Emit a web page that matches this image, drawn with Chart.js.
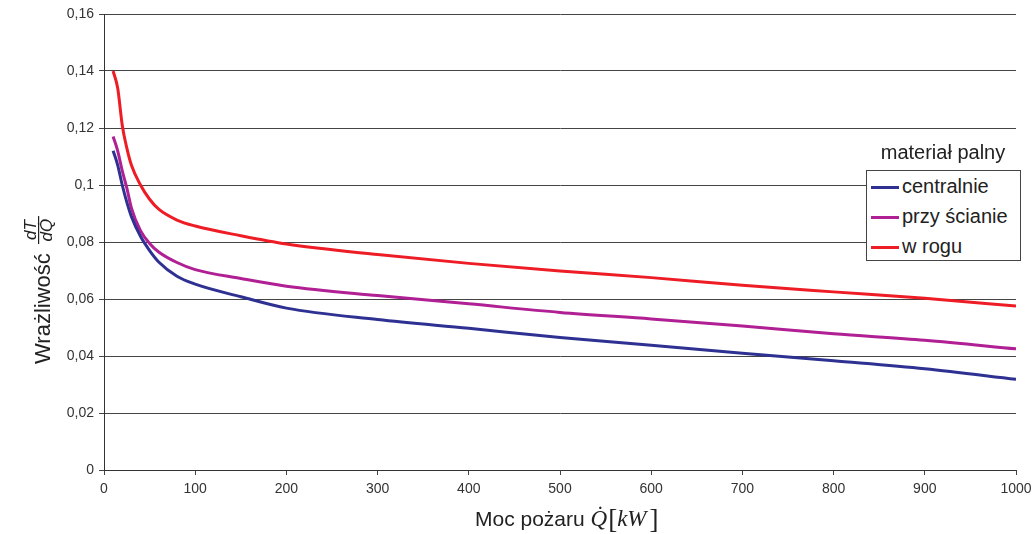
<!DOCTYPE html>
<html lang="pl">
<head>
    <meta charset="UTF-8">
    <title>Wrażliwość dT/dQ</title>
    <script src="https://cdn.jsdelivr.net/npm/chart.js"></script>
    <style>
        body { margin: 0; background: #fff; }
        .wrap { position: relative; width: 1032px; height: 534px; }
        #legend {
            position: absolute; left: 866px; top: 170px; width: 155px; height: 91px;
            border: 1px solid #444; background: #fff; box-sizing: border-box;
            font-family: "Liberation Sans", Arial, sans-serif; font-size: 20px; color: #222;
        }
        #legend .item { height: 30px; line-height: 30px; white-space: nowrap; }
        #legend .swatch { display: inline-block; width: 28px; height: 3px; margin: 0 3px 0 4px; vertical-align: middle; }
        #legendTitle {
            position: absolute; left: 860px; top: 141px; width: 166px; text-align: center;
            font-family: "Liberation Sans", Arial, sans-serif; font-size: 20px; color: #222;
        }
    </style>
</head>
<body>
    <div class="wrap">
        <canvas id="chart" width="1032" height="534"></canvas>
        <div id="legendTitle">materiał palny</div>
        <div id="legend"></div>
    </div>

    <script>
        // moc pożaru [kW]
        const power = [10, 15, 20, 25, 30, 40, 50, 60, 80, 100, 150, 200, 300, 400, 500, 600, 700, 800, 900, 1000];

        const centralnie = [0.112, 0.107, 0.100, 0.094, 0.089, 0.082, 0.077, 0.073, 0.068, 0.0652, 0.0608, 0.0568, 0.0528, 0.0497, 0.0465, 0.0438, 0.0410, 0.0383, 0.0355, 0.0318];
        const przyScianie = [0.117, 0.112, 0.105, 0.099, 0.092, 0.084, 0.0795, 0.0765, 0.0728, 0.0703, 0.0672, 0.0645, 0.0612, 0.0583, 0.0553, 0.0530, 0.0505, 0.0478, 0.0455, 0.0425];
        const wRogu = [0.140, 0.134, 0.121, 0.113, 0.107, 0.100, 0.0950, 0.0915, 0.0877, 0.0856, 0.0822, 0.0793, 0.0756, 0.0725, 0.0698, 0.0675, 0.0648, 0.0625, 0.0603, 0.0575];

        const seriesNames = ['centralnie', 'przy ścianie', 'w rogu'];
        const seriesColors = ['#2e3192', '#b01f93', '#ee1c25'];
        const seriesData = [centralnie, przyScianie, wRogu];

        const xTicks = [0, 100, 200, 300, 400, 500, 600, 700, 800, 900, 1000];
        const yTicks = [0, 0.02, 0.04, 0.06, 0.08, 0.1, 0.12, 0.14, 0.16];

        const sans = '"Liberation Sans", Arial, sans-serif';
        const serif = '"Liberation Serif", "Times New Roman", serif';

        // axis titles with the fraction dT/dQ and the Q-dot symbol
        const titlesPlugin = {
            id: 'titles',
            afterDraw(chart) {
                const ctx = chart.ctx;
                ctx.save();
                ctx.fillStyle = '#222';

                // y title, rotated
                ctx.save();
                ctx.translate(50, 364);
                ctx.rotate(-Math.PI / 2);
                ctx.font = '22px ' + sans;
                ctx.textAlign = 'left';
                ctx.fillText('Wrażliwość', 0, 0);
                const w = ctx.measureText('Wrażliwość ').width;
                ctx.font = 'italic 17px ' + sans;
                ctx.textAlign = 'center';
                const fx = w + 17;
                ctx.fillText('dT', fx, -14);
                ctx.fillText('dQ\u0307', fx, 2);
                ctx.fillRect(fx - 14, -12, 28, 1.2);
                ctx.restore();

                // x title
                let x = 475;
                const base = 526;
                ctx.textAlign = 'left';
                ctx.font = '21px ' + sans;
                ctx.fillText('Moc pożaru ', x, base);
                x += ctx.measureText('Moc pożaru ').width;
                ctx.font = 'italic 23px ' + serif;
                ctx.fillText('Q\u0307', x, base);
                x += ctx.measureText('Q').width + 1;
                ctx.font = '27px ' + serif;
                ctx.fillText('[', x, base + 2);
                x += ctx.measureText('[').width;
                ctx.font = 'italic 23px ' + serif;
                ctx.fillText('kW', x, base);
                x += ctx.measureText('kW').width + 3;
                ctx.font = '27px ' + serif;
                ctx.fillText(']', x, base + 2);
                ctx.restore();
            }
        };

        const ctx = document.getElementById('chart').getContext('2d');
        const chart = new Chart(ctx, {
            type: 'line',
            data: {
                datasets: seriesData.map((vals, i) => ({
                    label: seriesNames[i],
                    data: power.map((p, j) => ({ x: p, y: vals[j] })),
                    borderColor: seriesColors[i],
                    backgroundColor: seriesColors[i],
                    borderWidth: 3,
                    pointRadius: 0,
                    cubicInterpolationMode: 'monotone',
                    fill: false
                }))
            },
            options: {
                responsive: false,
                animation: false,
                layout: { padding: { left: 0, right: 0, top: 14, bottom: 0 } },
                plugins: {
                    legend: { display: false },
                    tooltip: { enabled: false }
                },
                scales: {
                    x: {
                        type: 'linear',
                        min: 0,
                        max: 1000,
                        afterBuildTicks: s => { s.ticks = xTicks.map(v => ({ value: v })); },
                        afterFit: s => { s.height = 64; s.paddingLeft = 0; s.paddingRight = 16; },
                        grid: { drawOnChartArea: false, drawTicks: true, tickLength: 5, color: '#444' },
                        border: { color: '#333', width: 1 },
                        ticks: {
                            color: '#333',
                            font: { family: sans, size: 14 },
                            padding: 6,
                            maxRotation: 0,
                            callback: v => String(v)
                        }
                    },
                    y: {
                        min: 0,
                        max: 0.16,
                        afterBuildTicks: s => { s.ticks = yTicks.map(v => ({ value: v })); },
                        afterFit: s => { s.width = 104; },
                        grid: { color: '#444', lineWidth: 1, tickLength: 5 },
                        border: { color: '#333', width: 1 },
                        ticks: {
                            color: '#333',
                            font: { family: sans, size: 14 },
                            padding: 5,
                            callback: v => Number(v.toFixed(2)).toString().replace('.', ',')
                        }
                    }
                }
            },
            plugins: [titlesPlugin]
        });

        // legend box inside the plot
        document.getElementById('legend').innerHTML = seriesNames.map((n, i) =>
            `<div class="item"><span class="swatch" style="background:${seriesColors[i]}"></span>${n}</div>`
        ).join('');
    </script>
</body>
</html>
